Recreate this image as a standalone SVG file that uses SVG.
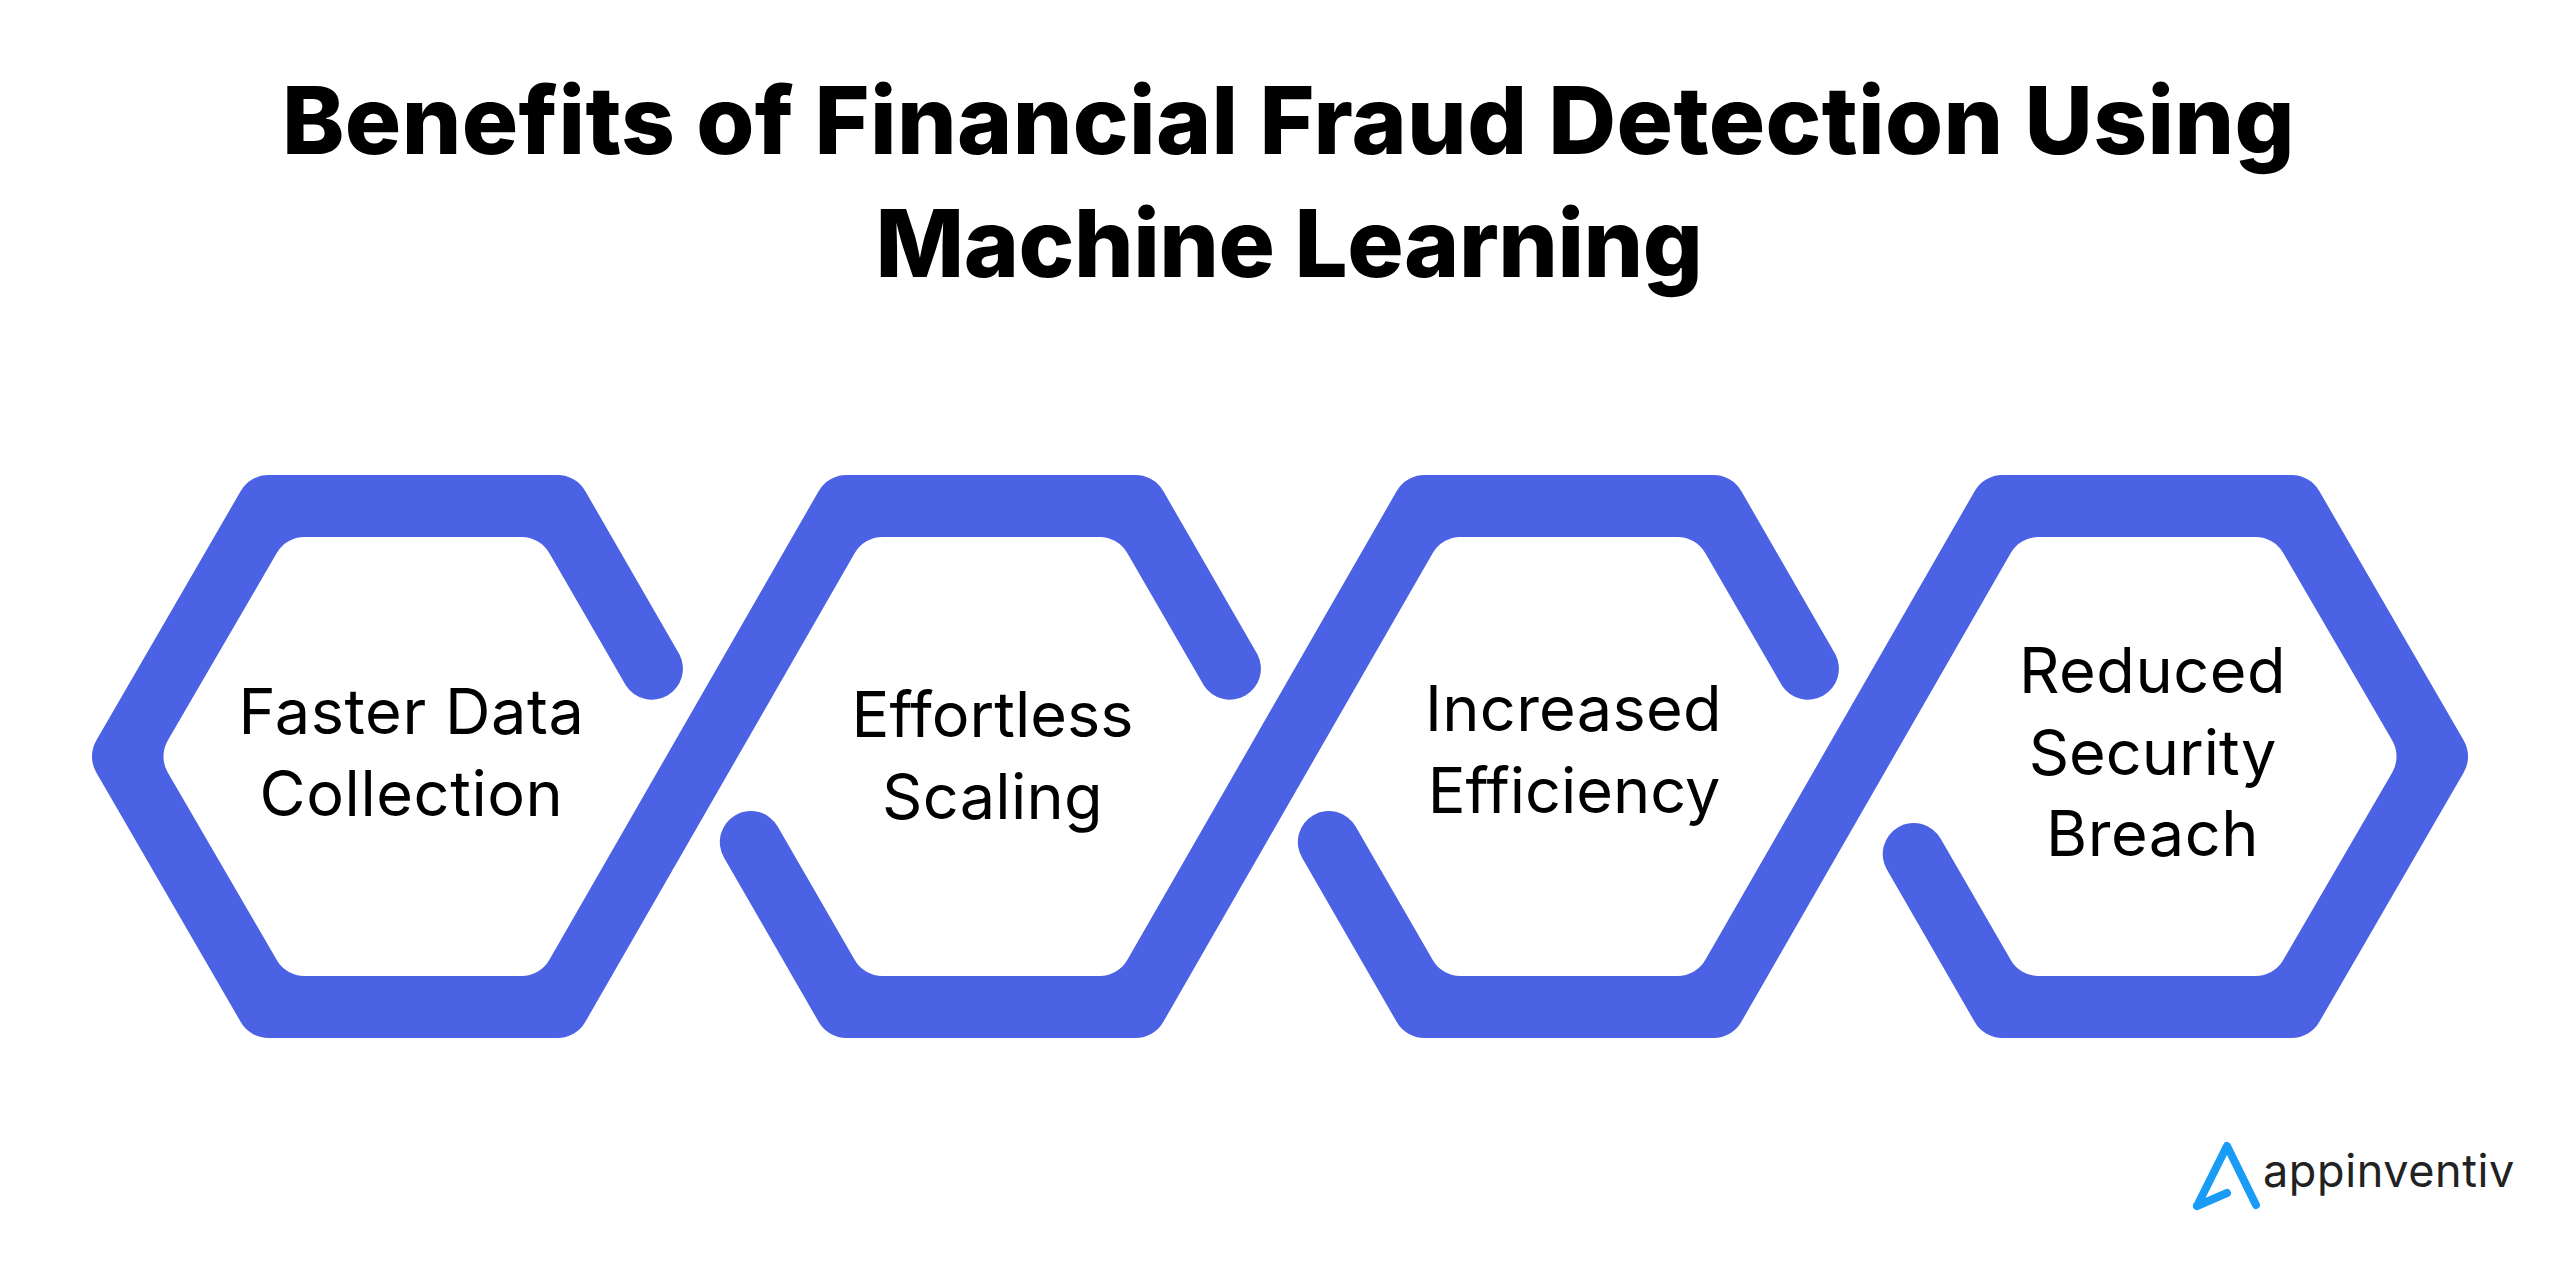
<svg xmlns="http://www.w3.org/2000/svg" xmlns:xlink="http://www.w3.org/1999/xlink" width="2560" height="1266" viewBox="0 0 2560 1266">
<style>
text{font-variant-ligatures:none}
.bar{fill:#4b62e4}
.title{font-family:"Inter","Liberation Sans",sans-serif;font-weight:800;font-size:94px;fill:#000;text-anchor:middle}
.label{font-family:"Inter","Liberation Sans",sans-serif;font-weight:400;font-size:63px;fill:#000;text-anchor:middle}
.brand{font-family:"Inter","Liberation Sans",sans-serif;font-size:45px;letter-spacing:0.6px;fill:#222;text-anchor:start}
</style>
<defs>
<path id="mid" class="bar" d="M390 537L521.5 537A32 32 0 0 1 549.25 553L625.9 685.5A31 31 0 0 0 679.5 654.5L585.25 491A32 32 0 0 0 557.5 475L390 475ZM145.95 857.5L240.75 1022A32 32 0 0 0 268.5 1038L557.5 1038A32 32 0 0 0 585.25 1022L854.75 553A32 32 0 0 1 882.5 537L978 537L978 475L846.5 475A32 32 0 0 0 818.75 491L549.25 960A32 32 0 0 1 521.5 976L304.5 976A32 32 0 0 1 276.75 960L199.65 826.5A31 31 0 0 0 145.95 857.5Z"/>
</defs>
<rect width="2560" height="1266" fill="#fff"/>
<g id="title">
<text class="title" x="1288.5" y="154" letter-spacing="0.35">Benefits of Financial Fraud Detection Using</text>
<text class="title" x="1289" y="277" letter-spacing="-0.5">Machine Learning</text>
</g>
<g id="node-1">
<path class="bar" d="M679.5 654.5L585.25 491A32 32 0 0 0 557.5 475L268.5 475A32 32 0 0 0 240.75 491L96.25 740.5A32 32 0 0 0 96.25 772.5L240.75 1022A32 32 0 0 0 268.5 1038L557.5 1038A32 32 0 0 0 585.25 1022L854.75 553A32 32 0 0 1 882.5 537L978 537L978 475L846.5 475A32 32 0 0 0 818.75 491L549.25 960A32 32 0 0 1 521.5 976L304.5 976A32 32 0 0 1 276.75 960L167.75 772.5A32 32 0 0 1 167.75 740.5L276.75 553A32 32 0 0 1 304.5 537L521.5 537A32 32 0 0 1 549.25 553L625.9 685.5A31 31 0 0 0 679.5 654.5Z"/>
<text class="label" x="411.5" y="734" letter-spacing="0.6">Faster Data</text>
<text class="label" x="411.5" y="816" letter-spacing="0.6">Collection</text>
</g>
<g id="node-2">
<use href="#mid" x="578"/>
<text class="label" x="992.5" y="737">Effortless</text>
<text class="label" x="992.5" y="819" letter-spacing="0.3">Scaling</text>
</g>
<g id="node-3">
<use href="#mid" x="1156"/>
<text class="label" x="1573.5" y="730.5" letter-spacing="0.3">Increased</text>
<text class="label" x="1574" y="812.5">Efficiency</text>
</g>
<g id="node-4">
<path class="bar" transform="translate(1734 0)" d="M390 475L557.5 475A32 32 0 0 1 585.25 491L729.75 740.5A32 32 0 0 1 729.75 772.5L585.25 1022A32 32 0 0 1 557.5 1038L268.5 1038A32 32 0 0 1 240.75 1022L152.85 869.5A31 31 0 0 1 206.55 838.5L276.75 960A32 32 0 0 0 304.5 976L521.5 976A32 32 0 0 0 549.25 960L658.25 772.5A32 32 0 0 0 658.25 740.5L549.25 553A32 32 0 0 0 521.5 537L390 537Z"/>
<text class="label" x="2152.5" y="693" letter-spacing="0.5">Reduced</text>
<text class="label" x="2152.5" y="775">Security</text>
<text class="label" x="2152.5" y="856" letter-spacing="0.5">Breach</text>
</g>
<g id="logo">
<path d="M2197 1206L2227 1146L2256 1205M2197 1206L2227 1193" fill="none" stroke="#1a9bf5" stroke-width="8" stroke-linecap="round" stroke-linejoin="round"/>
<text class="brand" x="2263" y="1187">appinventiv</text>
</g>
</svg>
